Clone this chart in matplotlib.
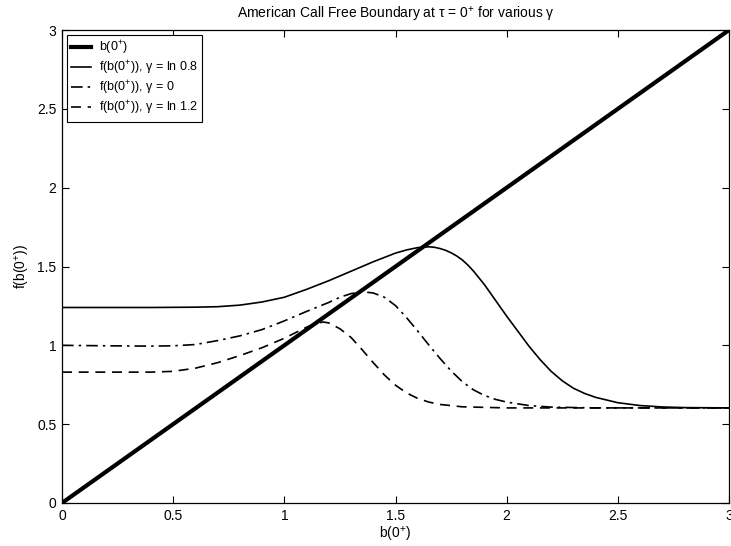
import matplotlib

matplotlib.use("Agg")
import matplotlib.pyplot as plt

plt.rcParams["font.family"] = ["Liberation Sans", "DejaVu Sans"]
plt.rcParams["mathtext.fontset"] = "custom"
plt.rcParams["mathtext.rm"] = "Liberation Sans"
plt.rcParams["mathtext.it"] = "Liberation Sans:italic"

# boundary b(0+) against itself
diag_b = [0.0, 3.0]

# gamma = ln 0.8
b_low = [0.0, 0.2, 0.4, 0.6, 0.7, 0.8, 0.9, 1.0, 1.1, 1.2, 1.3, 1.4, 1.5, 1.55, 1.6,
         1.65, 1.675, 1.7, 1.725, 1.75, 1.775, 1.8, 1.825, 1.85, 1.9, 1.95, 2.0, 2.05,
         2.1, 2.15, 2.2, 2.25, 2.3, 2.35, 2.4, 2.5, 2.6, 2.7, 2.8, 3.0]
f_low = [1.24, 1.24, 1.24, 1.242, 1.245, 1.255, 1.275, 1.305, 1.355, 1.41, 1.47, 1.53,
         1.585, 1.605, 1.62, 1.625, 1.622, 1.614, 1.603, 1.587, 1.567, 1.542, 1.51,
         1.472, 1.385, 1.285, 1.185, 1.09, 0.995, 0.91, 0.835, 0.775, 0.728, 0.695,
         0.67, 0.636, 0.618, 0.609, 0.605, 0.603]

# gamma = 0
b_zero = [0.0, 0.2, 0.4, 0.5, 0.6, 0.7, 0.8, 0.9, 1.0, 1.1, 1.2, 1.25, 1.3, 1.35, 1.4,
          1.45, 1.5, 1.55, 1.6, 1.65, 1.7, 1.75, 1.8, 1.85, 1.9, 1.95, 2.0, 2.1, 2.2,
          2.4, 3.0]
f_zero = [1.0, 0.997, 0.995, 0.997, 1.005, 1.03, 1.06, 1.1, 1.155, 1.215, 1.272, 1.305,
          1.328, 1.34, 1.332, 1.305, 1.252, 1.175, 1.09, 1.002, 0.917, 0.838, 0.77,
          0.718, 0.682, 0.657, 0.64, 0.618, 0.608, 0.603, 0.603]

# gamma = ln 1.2
b_high = [0.0, 0.2, 0.4, 0.5, 0.6, 0.7, 0.8, 0.9, 1.0, 1.05, 1.1, 1.15, 1.175, 1.2,
          1.25, 1.3, 1.35, 1.4, 1.45, 1.5, 1.55, 1.6, 1.65, 1.7, 1.8, 2.0, 3.0]
f_high = [0.83, 0.83, 0.83, 0.835, 0.855, 0.89, 0.935, 0.985, 1.045, 1.08, 1.115, 1.14,
          1.148, 1.142, 1.105, 1.05, 0.972, 0.89, 0.812, 0.747, 0.698, 0.663, 0.64,
          0.625, 0.61, 0.603, 0.603]

fig = plt.figure(figsize=(7.31, 5.46), dpi=100)
ax = fig.add_axes([0.0848, 0.0788, 0.9125, 0.8662])

ax.plot(diag_b, diag_b, color="black", lw=3.0, label=r"b(0$^{+}$)")
ax.plot(b_low, f_low, color="black", lw=1.2, ls="-",
        label=r"f(b(0$^{+}$)), γ = ln 0.8")
ax.plot(b_zero, f_zero, color="black", lw=1.2, ls=(0, (7, 3, 1.5, 3)),
        label=r"f(b(0$^{+}$)), γ = 0")
ax.plot(b_high, f_high, color="black", lw=1.2, ls=(0, (6, 4)),
        label=r"f(b(0$^{+}$)), γ = ln 1.2")

ax.set_xlim(0, 3)
ax.set_ylim(0, 3)
ax.set_xticks([0, 0.5, 1, 1.5, 2, 2.5, 3])
ax.set_xticklabels(["0", "0.5", "1", "1.5", "2", "2.5", "3"])
ax.set_yticks([0, 0.5, 1, 1.5, 2, 2.5, 3])
ax.set_yticklabels(["0", "0.5", "1", "1.5", "2", "2.5", "3"])
ax.tick_params(direction="in", top=True, right=True, labelsize=10, length=5, pad=4)
for s in ax.spines.values():
    s.set_linewidth(0.9)

ax.set_title(r"American Call Free Boundary at τ = 0$^{+}$ for various γ", fontsize=10, pad=8)
ax.set_xlabel(r"b(0$^{+}$)", fontsize=10, labelpad=2)
ax.set_ylabel(r"f(b(0$^{+}$))", fontsize=10, labelpad=4)

leg = ax.legend(loc="upper left", fontsize=9, handlelength=1.6, handletextpad=0.6,
                borderpad=0.35, labelspacing=0.15, fancybox=False, framealpha=1,
                edgecolor="black", borderaxespad=0.4)
leg.get_frame().set_linewidth(0.8)

fig.savefig("out.png", dpi=100)
